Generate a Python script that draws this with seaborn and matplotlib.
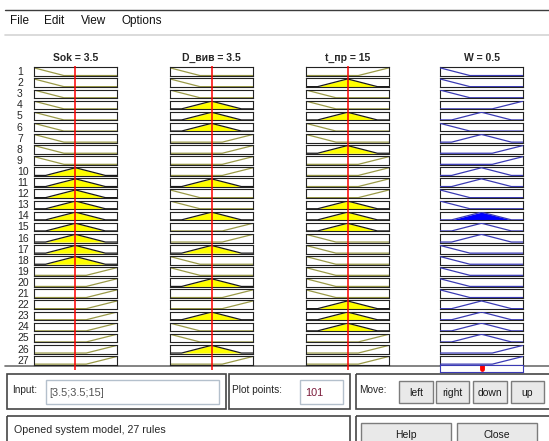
"""
Rule viewer of a fuzzy system (3 inputs, 1 output, 27 rules), redrawn with seaborn.
Writes out.png (549x441 px).
"""
import numpy as np
import seaborn as sns
import matplotlib
matplotlib.use("Agg")
import matplotlib.pyplot as plt
from matplotlib.patches import Rectangle

FIG_W, FIG_H = 549, 441

# variables and their ranges
variables = ["Sok", "D_вив", "t_пр", "W"]
ranges = [(0, 7), (0, 7), (0, 30), (0, 1)]
input_values = [3.5, 3.5, 15]
plot_points = 101

# membership functions (break points as fraction of the range)
mf_x = {
    1: [0.0, 0.36, 1.0],                # low
    2: [0.0, 0.14, 0.5, 0.86, 1.0],     # mid
    3: [0.0, 0.63, 1.0],                # high
}
mf_y = {
    1: [1, 0, 0],
    2: [0, 0, 1, 0, 0],
    3: [0, 0, 1],
}

# rule base: 1 = low, 2 = mid, 3 = high
rule_sok = [1, 1, 1, 1, 1, 1, 1, 1, 1, 2, 2, 2, 2, 2, 2, 2, 2, 2, 3, 3, 3, 3, 3, 3, 3, 3, 3]
rule_d = [1, 1, 1, 2, 2, 2, 3, 3, 3, 3, 2, 1, 1, 2, 3, 3, 2, 1, 1, 2, 3, 3, 2, 1, 1, 2, 3]
rule_t = [3, 2, 1, 1, 2, 1, 1, 2, 3, 3, 3, 3, 2, 2, 2, 1, 1, 1, 1, 1, 1, 2, 2, 2, 3, 3, 3]
rule_w = [1, 1, 1, 3, 2, 1, 2, 3, 3, 2, 2, 1, 1, 2, 2, 2, 1, 1, 1, 1, 1, 2, 2, 2, 2, 3, 3]
rules = [rule_sok, rule_d, rule_t, rule_w]
n_rules = len(rule_sok)

# layout in pixels
col_left = [34, 170, 306, 440]
col_width = 83
row_top0, row_pitch, row_h = 67.3, 11.1, 8.7


def mf_eval(mf, x, lo, hi):
    return np.interp((np.asarray(x) - lo) / (hi - lo), mf_x[mf], mf_y[mf])


def px_axes(fig, x0, y0, x1, y1, **kw):
    return fig.add_axes([x0 / FIG_W, 1 - y1 / FIG_H, (x1 - x0) / FIG_W, (y1 - y0) / FIG_H], **kw)


sns.set_style("white")
plt.rcParams["font.family"] = ["Liberation Sans", "DejaVu Sans"]

fig = plt.figure(figsize=(FIG_W / 100, FIG_H / 100), dpi=100)
fig.patch.set_facecolor("white")

# window chrome
ui = px_axes(fig, 0, 0, FIG_W, FIG_H)
ui.set_xlim(0, FIG_W)
ui.set_ylim(FIG_H, 0)
ui.axis("off")
ui.plot([5, FIG_W], [9.5, 9.5], color="#3c3c3c", lw=1)
ui.plot([5, FIG_W], [35, 35], color="#d4d4d4", lw=1.2)
for label, x in zip(["File", "Edit", "View", "Options"], [10, 44, 81, 122]):
    ui.text(x, 21, label, fontsize=8.5, va="center", ha="left", color="#111111")
ui.plot([5, FIG_W], [366, 366], color="#6e6e6e", lw=1.2)


def panel(x0, y0, x1, y1):
    ui.add_patch(Rectangle((x0, y0), x1 - x0, y1 - y0, fill=False, edgecolor="#454545", lw=1.2))


def field(x0, y0, x1, y1):
    ui.add_patch(Rectangle((x0, y0), x1 - x0, y1 - y0, facecolor="white", edgecolor="#b4c0cc", lw=1))


def button(x0, y0, x1, y1, label):
    ui.add_patch(Rectangle((x0, y0), x1 - x0, y1 - y0, facecolor="#e9e9e9", edgecolor="#7c7c7c", lw=1))
    ui.text((x0 + x1) / 2, (y0 + y1) / 2 + 0.5, label, fontsize=7.5, ha="center", va="center", color="#1a1a1a")


panel(7, 374, 226, 409)
ui.text(12, 390, "Input:", fontsize=7.2, va="center")
field(46, 380, 219, 404)
ui.text(49, 393, "[" + ";".join(f"{v:g}" for v in input_values) + "]", fontsize=7.8, va="center", color="#505050")

panel(229, 374, 350, 409)
ui.text(232, 390, "Plot points:", fontsize=7.3, va="center")
field(300, 380, 343, 404)
ui.text(305, 393, str(plot_points), fontsize=7.8, va="center", color="#7a1a3a")

panel(356, 374, 560, 409)
ui.text(359, 390, "Move:", fontsize=7.3, va="center")
for label, (x0, x1) in zip(["left", "right", "down", "up"], [(399, 433), (436, 469), (473, 507), (511, 544)]):
    button(x0, 381, x1, 403, label)

panel(7, 416, 350, 450)
ui.text(14, 430, f"Opened system model, {n_rules} rules", fontsize=7.7, va="center")
panel(356, 416, 560, 450)
button(361, 423, 451, 445, "Help")
button(457, 423, 537, 445, "Close")

# firing strength of each rule and aggregated output
strengths = []
for r in range(n_rules):
    degs = [float(mf_eval(rules[k][r], input_values[k], *ranges[k])) for k in range(3)]
    strengths.append(min(degs))
w_lo, w_hi = ranges[3]
w_grid = np.linspace(w_lo, w_hi, plot_points)
aggregate = np.zeros_like(w_grid)
for r in range(n_rules):
    aggregate = np.maximum(aggregate, np.minimum(mf_eval(rule_w[r], w_grid, w_lo, w_hi), strengths[r]))
w_value = float(np.sum(w_grid * aggregate) / np.sum(aggregate))
values = input_values + [round(w_value, 4)]

# membership function cells
for k in range(4):
    lo, hi = ranges[k]
    xs = np.linspace(lo, hi, plot_points)
    for r in range(n_rules):
        top = row_top0 + r * row_pitch
        ax = px_axes(fig, col_left[k], top, col_left[k] + col_width, top + row_h)
        ax.set_xlim(lo, hi)
        ax.set_ylim(-0.06, 1.07)
        ax.set_xticks([])
        ax.set_yticks([])
        for sp in ax.spines.values():
            sp.set_color("#222222")
            sp.set_linewidth(0.8)
        ys = mf_eval(rules[k][r], xs, lo, hi)
        if k < 3:
            fired = mf_eval(rules[k][r], input_values[k], lo, hi) > 0
            if fired:
                ax.fill_between(xs, 0, ys, color="#ffff00", lw=0, zorder=1.5)
                sns.lineplot(x=xs, y=ys, ax=ax, color="#1a1a1a", lw=0.9, estimator=None, sort=False, legend=False, zorder=2)
            else:
                sns.lineplot(x=xs, y=ys, ax=ax, color="#9a9a48", lw=0.9, estimator=None, sort=False, legend=False, zorder=2)
            if k == 0:
                ax.text(-0.205, 0.45, str(r + 1), transform=ax.transAxes, fontsize=7.5, ha="left", va="center")
        else:
            clipped = np.minimum(ys, strengths[r])
            if strengths[r] > 0:
                ax.fill_between(xs, 0, clipped, color="#0000ff", lw=0, zorder=1.5)
            sns.lineplot(x=xs, y=ys, ax=ax, color="#3a3ab4", lw=0.9, estimator=None, sort=False, legend=False, zorder=3)
        ax.set_xlabel("")
        ax.set_ylabel("")

# aggregated output strip
agg_ax = px_axes(fig, col_left[3], 364.5, col_left[3] + col_width, 372)
agg_ax.set_xlim(w_lo, w_hi)
agg_ax.set_xticks([])
agg_ax.set_yticks([])
for sp in agg_ax.spines.values():
    sp.set_color("#3a3ab4")
    sp.set_linewidth(0.8)
agg_ax.axvline(w_value, ymin=0.45, ymax=1, color="#ff0000", lw=3.5)

# column titles and input markers
for k in range(4):
    lo, hi = ranges[k]
    cax = px_axes(fig, col_left[k], 66, col_left[k] + col_width, 370)
    cax.set_xlim(lo, hi)
    cax.set_ylim(0, 1)
    cax.patch.set_alpha(0)
    cax.set_xticks([])
    cax.set_yticks([])
    for sp in cax.spines.values():
        sp.set_visible(False)
    cax.set_zorder(5)
    cax.set_title(f"{variables[k]} = {values[k]:g}", fontsize=7.5, fontweight="bold", pad=3.5)
    if k < 3:
        cax.axvline(input_values[k], color="#ff0000", lw=1.1)

fig.savefig("out.png", dpi=100)
